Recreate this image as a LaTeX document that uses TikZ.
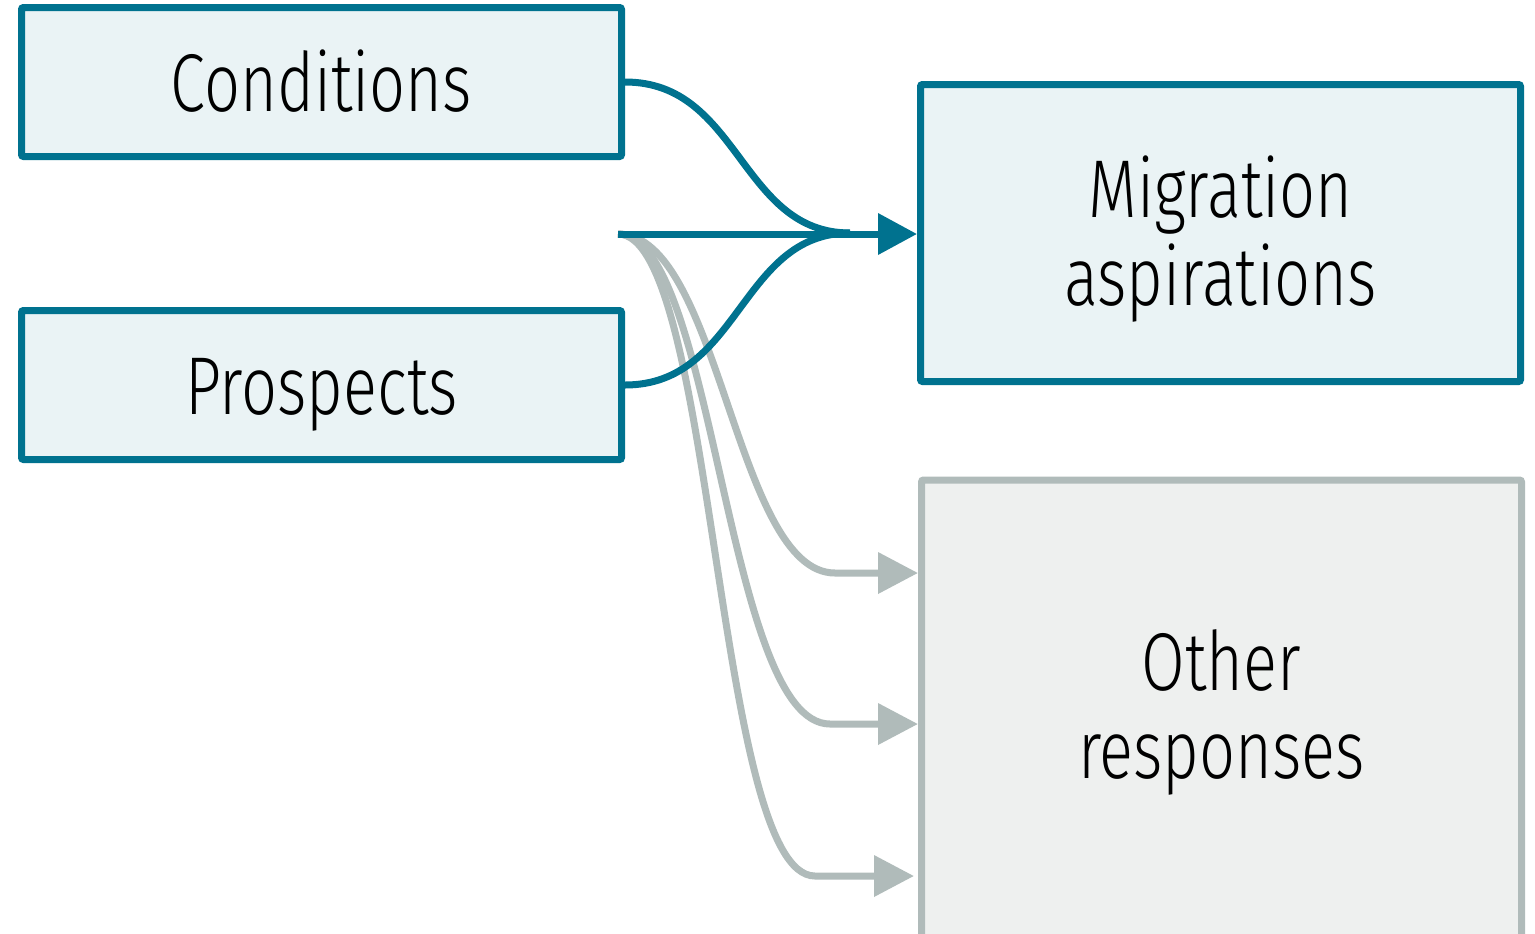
\documentclass[tikz,border=0pt]{standalone}
\usepackage{fontspec}
\setmainfont{Fira Sans Light}[FakeStretch=0.77]
\usetikzlibrary{arrows.meta}
\definecolor{tealc}{RGB}{0,114,143}
\definecolor{tealfill}{RGB}{234,243,245}
\definecolor{grayc}{RGB}{176,187,186}
\definecolor{grayfill}{RGB}{238,240,239}
\begin{document}
\begin{tikzpicture}[x=0.5pt,y=-0.5pt,
  bluebox/.style={draw=tealc, fill=tealfill, line width=3.5pt, rounded corners=1pt, inner sep=0pt, align=center,
    font=\fontsize{41}{44}\selectfont},
  onel/.style={text height=29pt, text depth=0pt},
  twol/.style={text height=72pt, text depth=0pt},
  graybox/.style={draw=grayc, fill=grayfill, line width=3.5pt, rounded corners=1pt, inner sep=0pt},
  lbl/.style={align=center, font=\fontsize{41}{44}\selectfont, inner sep=0pt},
  blueline/.style={draw=tealc, line width=3.5pt, -{Triangle[length=19.5pt,width=20pt]}},
  bluecurve/.style={draw=tealc, line width=3.5pt},
  grayline/.style={draw=grayc, line width=3.5pt, -{Triangle[length=20pt,width=20pt]}}]
\clip (0,0) rectangle (1535,933);
\fill[white] (0,0) rectangle (1535,933);
\node[bluebox, onel, minimum width=300pt, minimum height=74.5pt] (cond) at (321.5,82) {Conditions};
\node[bluebox, onel, minimum width=300pt, minimum height=74.5pt] (pros) at (321.5,385) {Prospects};
\node[bluebox, twol, minimum width=300pt, minimum height=148.5pt] (mig) at (1220.5,233) {Migration\\aspirations};
\node[graybox, minimum width=300pt, minimum height=240pt] (oth) at (1221.5,720) {};
\node[lbl, anchor=base] (othl) at (1221.5,778) {Other\\responses};
\coordinate (src) at (618,234);
\coordinate (merge) at (850,233);
\coordinate (g1) at (835,573);
\coordinate (g2) at (830,724);
\coordinate (g3) at (815,876);
% gray connectors
\draw[grayline] (src) .. controls (720,234) and (735,573) .. (g1) -- (oth.west |- g1);
\draw[grayline] (src) .. controls (715,234) and (725,724) .. (g2) -- (oth.west |- g2);
\draw[grayline] (src) .. controls (715,234) and (715,876) .. (g3) -- ([xshift=-2pt]oth.west |- g3);
% blue connectors
\draw[bluecurve] (cond.east) .. controls (740,82) and (740,233) .. (merge);
\draw[bluecurve] (pros.east) .. controls (740,385) and (740,233) .. (merge);
\draw[blueline] (src) -- (mig.west |- src);
\end{tikzpicture}
\end{document}
